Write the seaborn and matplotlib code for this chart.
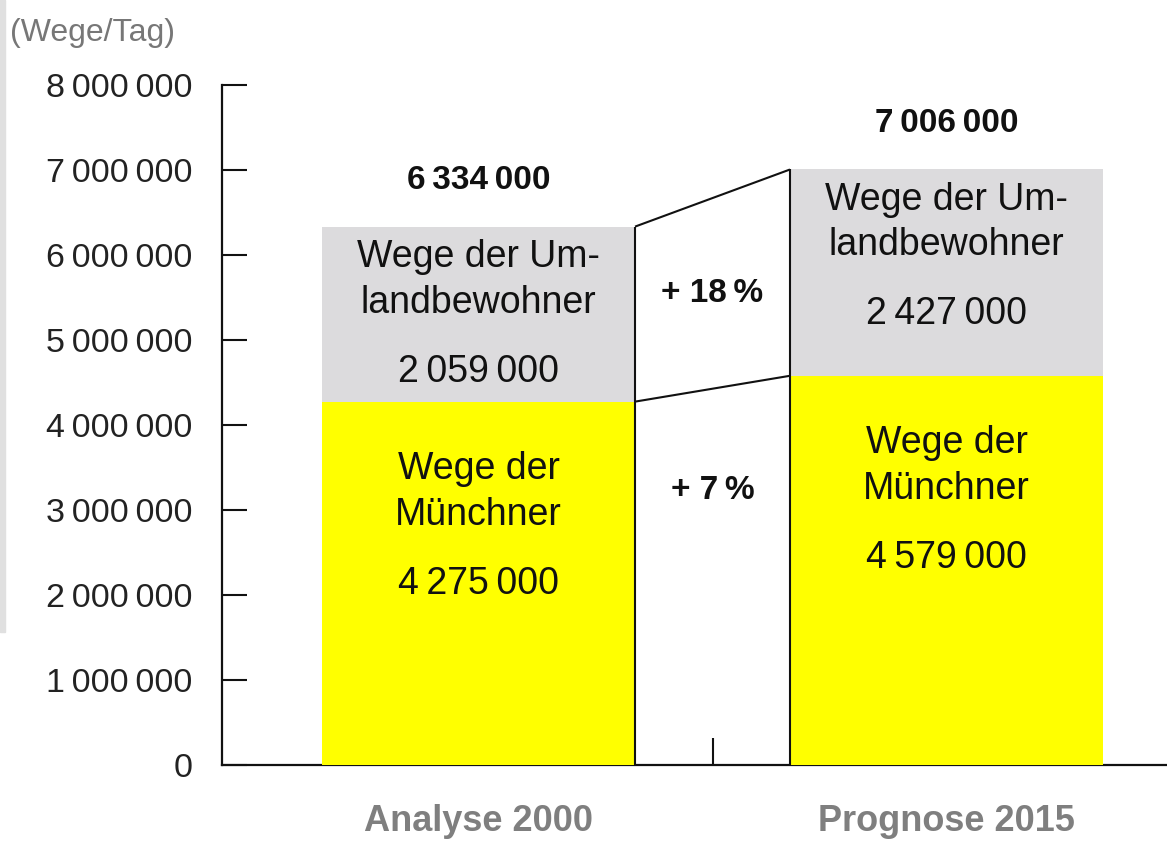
import matplotlib
matplotlib.use("Agg")
import matplotlib.pyplot as plt
import seaborn as sns
import numpy as np
from matplotlib.patches import Rectangle

# Data
periods = ["Analyse 2000", "Prognose 2015"]
muenchner = [4275000, 4579000]
umland = [2059000, 2427000]
totals = [6334000, 7006000]
growth_labels = ["+ 7\u2009%", "+ 18\u2009%"]  # Münchner, Umland
yticks = [0, 1000000, 2000000, 3000000, 4000000, 5000000, 6000000, 7000000, 8000000]

YELLOW = "#ffff00"
GRAY = "#dcdbdd"
BAR_W = 0.669


def fmt(v):
    return f"{v:,}".replace(",", "\u2009")


sns.set_style("white")
plt.rcParams['font.family'] = ['Liberation Sans', 'DejaVu Sans']

fig = plt.figure(figsize=(11.67, 8.46), dpi=100)
ax = fig.add_axes([222 / 1167, 81 / 846, 945 / 1167, 680 / 846])

# stacked bars: full height grey, yellow part on top of it
sns.barplot(x=periods, y=totals, color=GRAY, width=BAR_W, saturation=1,
            linewidth=0, errorbar=None, ax=ax, zorder=3)
sns.barplot(x=periods, y=muenchner, color=YELLOW, width=BAR_W, saturation=1,
            linewidth=0, errorbar=None, ax=ax, zorder=3)

ax.set_xlim(-0.548, 1.471)
ax.set_ylim(0, 8000000)
ax.set_xlabel("")
ax.set_ylabel("")

for s in ["top", "right"]:
    ax.spines[s].set_visible(False)
for s in ["left", "bottom"]:
    ax.spines[s].set_linewidth(1.6)
    ax.spines[s].set_color("#111111")

ax.set_yticks(yticks)
ax.set_yticklabels([fmt(v) for v in yticks])
ax.tick_params(axis="y", left=True, direction="in", length=18, width=1.5,
               pad=21, labelsize=24.5, labelcolor="#222222", color="#111111")
ax.tick_params(axis="x", which="major", bottom=True, length=0, pad=28,
               labelsize=26, labelcolor="#7f7f7f")
for t in ax.get_xticklabels():
    t.set_fontweight("bold")
ax.set_xticks([0.5], minor=True)
ax.tick_params(axis="x", which="minor", bottom=True, direction="in",
               length=19.5, width=1.5, color="#111111")

# connector between bars
x_l = 0 + BAR_W / 2
x_r = 1 - BAR_W / 2
lk = dict(color="#111111", lw=1.5, zorder=4, solid_capstyle="butt")
ax.plot([x_l, x_r], [totals[0], totals[1]], **lk)
ax.plot([x_l, x_r], [muenchner[0], muenchner[1]], **lk)
ax.plot([x_l, x_l], [0, totals[0]], **lk)
ax.plot([x_r, x_r], [0, totals[1]], **lk)

px = 0.72  # points per pixel
tk = dict(ha="center", va="center", fontsize=27, color="#111111", zorder=5,
          textcoords="offset points")
for i in range(2):
    ax.annotate(fmt(totals[i]), (i, totals[i]), xytext=(0, 46 * px),
                fontweight="bold", **{**tk, "fontsize": 24})
    ax.annotate("Wege der Um-\nlandbewohner", (i, totals[i]),
                xytext=(0, -53 * px), linespacing=1.35, **tk)
    ax.annotate(fmt(umland[i]), (i, totals[i]), xytext=(0, -145 * px), **tk)
    ax.annotate("Wege der\nMünchner", (i, muenchner[i]),
                xytext=(0, -90 * px), linespacing=1.35, **tk)
    ax.annotate(fmt(muenchner[i]), (i, muenchner[i]), xytext=(0, -182 * px), **tk)

# growth labels in the gap
mid_top = (np.mean(totals) + np.mean(muenchner)) / 2
ax.text(0.5, mid_top, growth_labels[1], ha="center", va="center", fontsize=24,
        fontweight="bold", color="#111111", zorder=5)
ax.text(0.5, 0.73 * np.mean(muenchner), growth_labels[0], ha="center",
        va="center", fontsize=24, fontweight="bold", color="#111111", zorder=5)

fig.text(10 / 1167, 1 - 33 / 846, "(Wege/Tag)", ha="left", va="center",
         fontsize=23, color="#777777")
fig.patches.append(Rectangle((0, 1 - 632 / 846), 5 / 1167, 632 / 846,
                             transform=fig.transFigure, color="#e0e0e0",
                             zorder=0))

fig.savefig("out.png", dpi=100)
